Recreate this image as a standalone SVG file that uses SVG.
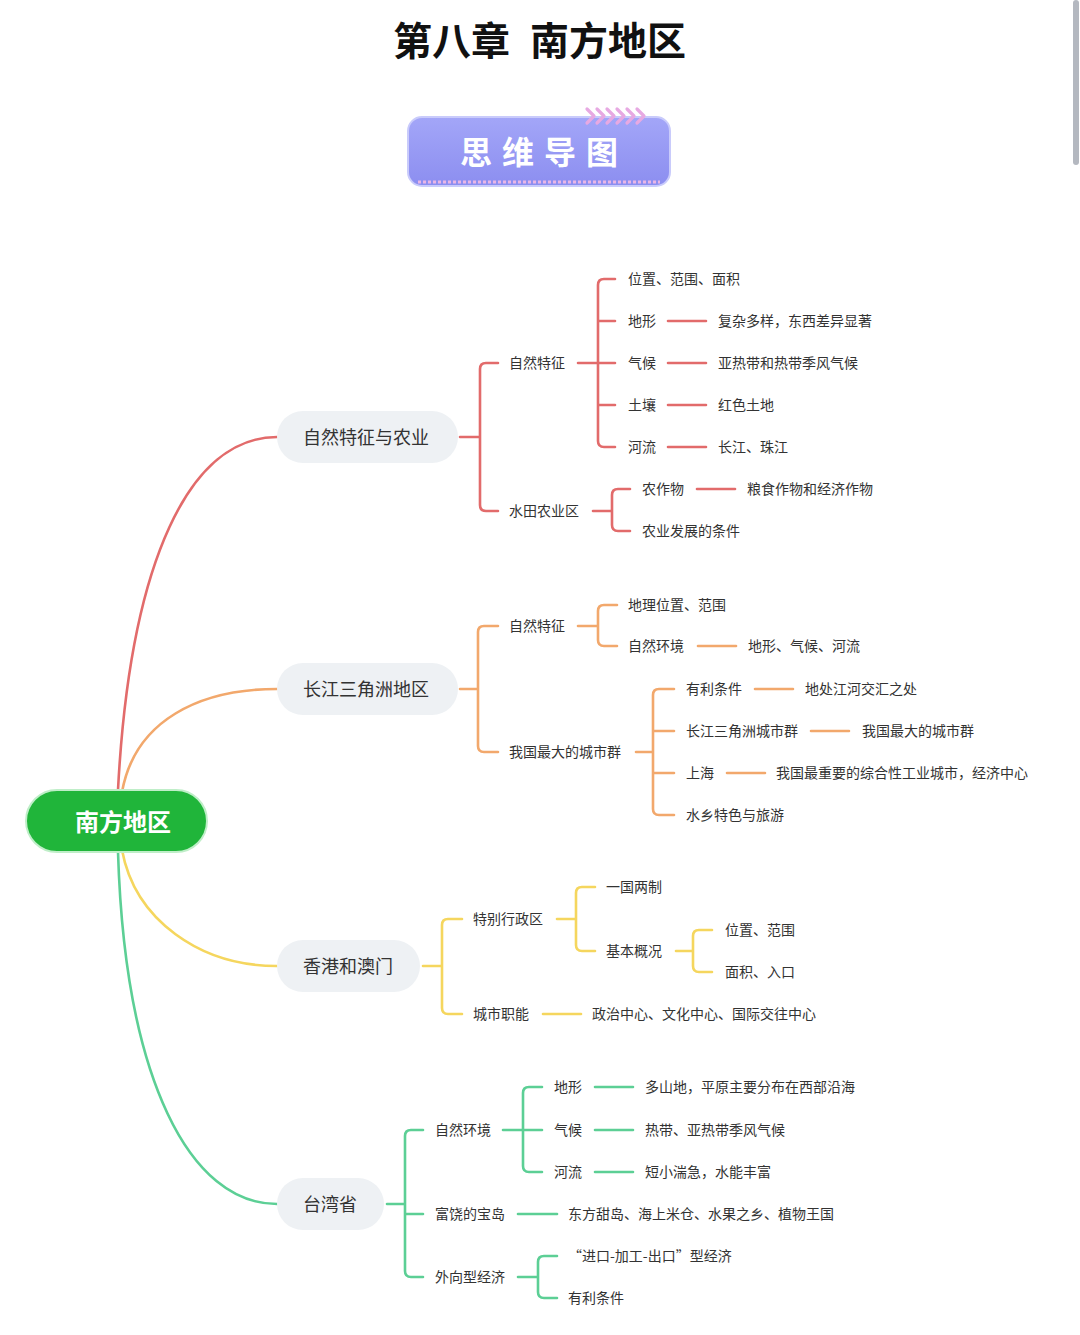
<svg xmlns="http://www.w3.org/2000/svg" width="1080" height="1335" viewBox="0 0 1080 1335">
<style>
.t{font-family:"Noto Sans CJK SC","Noto Sans",sans-serif;fill:#333;dominant-baseline:central}
.s{font-size:14px}
.m{font-size:18px}
.pill{fill:#eef1f4}
.c{fill:none;stroke-width:2.6;stroke-linecap:round;stroke-linejoin:round}
.r{stroke:#e26b6b}.o{stroke:#f2a86c}.y{stroke:#f5d65e}.g{stroke:#5ccf95}
</style>
<defs>
<linearGradient id="bg" x1="0" y1="0" x2="0" y2="1">
<stop offset="0" stop-color="#a3a6f8"/><stop offset="1" stop-color="#8c8ef0"/>
</linearGradient>
</defs>
<rect width="1080" height="1335" fill="#fff"/>
<rect x="1073" y="0" width="6" height="165" rx="3" fill="#b4b8c0"/>

<g id="title">
<text class="t" x="393" y="38" style="font-size:39px;font-weight:700;fill:#111">第八章<tspan x="530">南方地区</tspan></text>
</g>

<g id="badge">
<rect x="408" y="117" width="262" height="69" rx="14" fill="url(#bg)" stroke="#c9cbfb" stroke-width="2"/>
<line x1="418" y1="182" x2="660" y2="182" stroke="#e9b6e6" stroke-width="3" stroke-dasharray="3 2"/>
<g fill="none" stroke="#e7a9e2" stroke-width="3.2" stroke-linecap="round" stroke-linejoin="round">
<polyline points="587,109 594,116 587,123"/><polyline points="597,109 604,116 597,123"/><polyline points="607,109 614,116 607,123"/><polyline points="617,109 624,116 617,123"/><polyline points="627,109 634,116 627,123"/><polyline points="637,109 644,116 637,123"/>
</g>
<text class="t" x="460" y="150" style="font-size:32px;font-weight:700;fill:#fff;letter-spacing:10px">思维导图</text>
</g>

<g id="connectors">
<path class="c r" d="M118 790 C130 560 190 437 277 437"/>
<path class="c o" d="M122 792 C135 720 200 689 277 689"/>
<path class="c y" d="M122 850 C135 920 200 966 277 966"/>
<path class="c g" d="M118 852 C125 1080 190 1204 277 1204"/>

<!-- branch 1 -->
<path class="c r" d="M460 437 H480 M498 363 H486 Q480 363 480 369 V505 Q480 511 486 511 H498"/>
<path class="c r" d="M578 363 H598 M615 279 H604 Q598 279 598 285 V441 Q598 447 604 447 H615 M598 321 H615 M598 363 H615 M598 405 H615"/>
<path class="c r" d="M668 321 H706 M668 363 H706 M668 405 H706 M668 447 H706"/>
<path class="c r" d="M593 511 H612 M630 489 H618 Q612 489 612 495 V525 Q612 531 618 531 H630"/>
<path class="c r" d="M697 489 H735"/>

<!-- branch 2 -->
<path class="c o" d="M460 689 H478 M498 626 H484 Q478 626 478 632 V746 Q478 752 484 752 H498"/>
<path class="c o" d="M578 626 H598 M617 605 H604 Q598 605 598 611 V640 Q598 646 604 646 H617"/>
<path class="c o" d="M698 646 H736"/>
<path class="c o" d="M636 752 H653 M674 689 H659 Q653 689 653 695 V809 Q653 815 659 815 H674 M653 731 H674 M653 773 H674"/>
<path class="c o" d="M755 689 H793 M811 731 H849 M727 773 H765"/>

<!-- branch 3 -->
<path class="c y" d="M423 966 H442 M462 919 H448 Q442 919 442 925 V1008 Q442 1014 448 1014 H462"/>
<path class="c y" d="M557 919 H576 M595 887 H582 Q576 887 576 893 V945 Q576 951 582 951 H595"/>
<path class="c y" d="M676 951 H693 M712 930 H699 Q693 930 693 936 V966 Q693 972 699 972 H712"/>
<path class="c y" d="M543 1014 H581"/>

<!-- branch 4 -->
<path class="c g" d="M387 1204 H405 M423 1130 H411 Q405 1130 405 1136 V1271 Q405 1277 411 1277 H423 M405 1214 H423"/>
<path class="c g" d="M503 1130 H523 M542 1087 H529 Q523 1087 523 1093 V1166 Q523 1172 529 1172 H542 M523 1130 H542"/>
<path class="c g" d="M595 1087 H633 M595 1130 H633 M595 1172 H633"/>
<path class="c g" d="M518 1214 H557"/>
<path class="c g" d="M518 1277 H538 M557 1256 H544 Q538 1256 538 1262 V1292 Q538 1298 544 1298 H557"/>
</g>

<g id="root">
<rect x="26" y="790" width="181" height="62" rx="31" fill="#20b53a" stroke="#bfeec8" stroke-width="2"/>
<text class="t" x="75" y="820" style="font-size:24px;font-weight:700;fill:#fff">南方地区</text>
</g>

<g id="n1"><rect class="pill" x="277" y="411" width="181" height="52" rx="26"/><text class="t m" x="303" y="436">自然特征与农业</text></g>
<g id="n2"><rect class="pill" x="277" y="663" width="181" height="52" rx="26"/><text class="t m" x="303" y="688">长江三角洲地区</text></g>
<g id="n3"><rect class="pill" x="277" y="940" width="143" height="52" rx="26"/><text class="t m" x="303" y="965">香港和澳门</text></g>
<g id="n4"><rect class="pill" x="277" y="1178" width="107" height="52" rx="26"/><text class="t m" x="303" y="1203">台湾省</text></g>

<g id="n1-sub" transform="translate(0,-1)">
<text class="t s" x="509" y="363">自然特征</text>
<text class="t s" x="509" y="511">水田农业区</text>
<text class="t s" x="628" y="279">位置、范围、面积</text>
<text class="t s" x="628" y="321">地形</text>
<text class="t s" x="628" y="363">气候</text>
<text class="t s" x="628" y="405">土壤</text>
<text class="t s" x="628" y="447">河流</text>
<text class="t s" x="718" y="321">复杂多样，东西差异显著</text>
<text class="t s" x="718" y="363">亚热带和热带季风气候</text>
<text class="t s" x="718" y="405">红色土地</text>
<text class="t s" x="718" y="447">长江、珠江</text>
<text class="t s" x="642" y="489">农作物</text>
<text class="t s" x="642" y="531">农业发展的条件</text>
<text class="t s" x="747" y="489">粮食作物和经济作物</text>
</g>

<g id="n2-sub" transform="translate(0,-1)">
<text class="t s" x="509" y="626">自然特征</text>
<text class="t s" x="509" y="752">我国最大的城市群</text>
<text class="t s" x="628" y="605">地理位置、范围</text>
<text class="t s" x="628" y="646">自然环境</text>
<text class="t s" x="748" y="646">地形、气候、河流</text>
<text class="t s" x="686" y="689">有利条件</text>
<text class="t s" x="686" y="731">长江三角洲城市群</text>
<text class="t s" x="686" y="773">上海</text>
<text class="t s" x="686" y="815">水乡特色与旅游</text>
<text class="t s" x="805" y="689">地处江河交汇之处</text>
<text class="t s" x="862" y="731">我国最大的城市群</text>
<text class="t s" x="776" y="773">我国最重要的综合性工业城市，经济中心</text>
</g>

<g id="n3-sub" transform="translate(0,-1)">
<text class="t s" x="473" y="919">特别行政区</text>
<text class="t s" x="473" y="1014">城市职能</text>
<text class="t s" x="606" y="887">一国两制</text>
<text class="t s" x="606" y="951">基本概况</text>
<text class="t s" x="725" y="930">位置、范围</text>
<text class="t s" x="725" y="972">面积、入口</text>
<text class="t s" x="592" y="1014">政治中心、文化中心、国际交往中心</text>
</g>

<g id="n4-sub" transform="translate(0,-1)">
<text class="t s" x="435" y="1130">自然环境</text>
<text class="t s" x="435" y="1214">富饶的宝岛</text>
<text class="t s" x="435" y="1277">外向型经济</text>
<text class="t s" x="554" y="1087">地形</text>
<text class="t s" x="554" y="1130">气候</text>
<text class="t s" x="554" y="1172">河流</text>
<text class="t s" x="645" y="1087">多山地，平原主要分布在西部沿海</text>
<text class="t s" x="645" y="1130">热带、亚热带季风气候</text>
<text class="t s" x="645" y="1172">短小湍急，水能丰富</text>
<text class="t s" x="568" y="1214">东方甜岛、海上米仓、水果之乡、植物王国</text>
<text class="t s" x="568" y="1256">“进口-加工-出口”型经济</text>
<text class="t s" x="568" y="1298">有利条件</text>
</g>
</svg>
